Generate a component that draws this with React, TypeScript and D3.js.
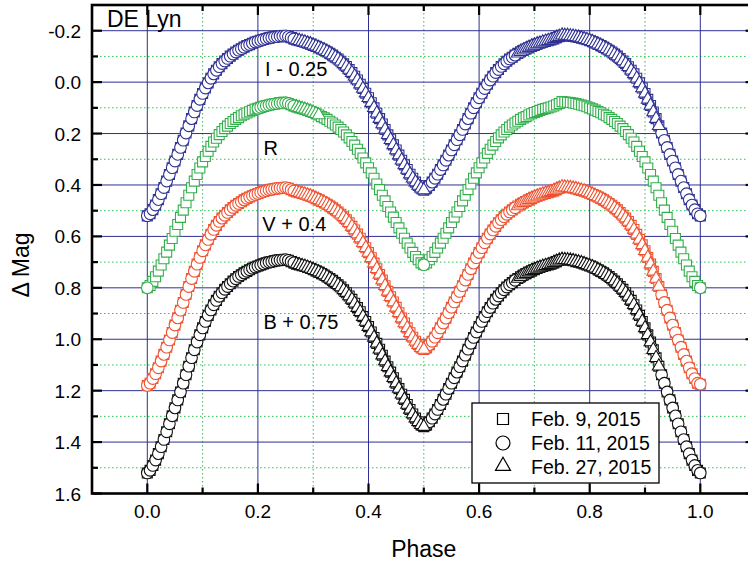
import React from 'react';
import * as d3 from 'd3';

// Orbital phase grid (x values of every observation point)
const PHASE = [
  0.000, 0.005, 0.010, 0.015, 0.020, 0.025, 0.030, 0.035, 0.040, 0.045,
  0.050, 0.055, 0.060, 0.065, 0.070, 0.075, 0.080, 0.085, 0.090, 0.095,
  0.100, 0.105, 0.110, 0.115, 0.120, 0.125, 0.130, 0.135, 0.140, 0.145,
  0.150, 0.155, 0.160, 0.165, 0.170, 0.175, 0.180, 0.185, 0.190, 0.195,
  0.200, 0.205, 0.210, 0.215, 0.220, 0.225, 0.230, 0.235, 0.240, 0.245,
  0.250, 0.255, 0.260, 0.265, 0.270, 0.275, 0.280, 0.285, 0.290, 0.295,
  0.300, 0.305, 0.310, 0.315, 0.320, 0.325, 0.330, 0.335, 0.340, 0.345,
  0.350, 0.355, 0.360, 0.365, 0.370, 0.375, 0.380, 0.385, 0.390, 0.395,
  0.400, 0.405, 0.410, 0.415, 0.420, 0.425, 0.430, 0.435, 0.440, 0.445,
  0.450, 0.455, 0.460, 0.465, 0.470, 0.475, 0.480, 0.485, 0.490, 0.495,
  0.500, 0.505, 0.510, 0.515, 0.520, 0.525, 0.530, 0.535, 0.540, 0.545,
  0.550, 0.555, 0.560, 0.565, 0.570, 0.575, 0.580, 0.585, 0.590, 0.595,
  0.600, 0.605, 0.610, 0.615, 0.620, 0.625, 0.630, 0.635, 0.640, 0.645,
  0.650, 0.655, 0.660, 0.665, 0.670, 0.675, 0.680, 0.685, 0.690, 0.695,
  0.700, 0.705, 0.710, 0.715, 0.720, 0.725, 0.730, 0.735, 0.740, 0.745,
  0.750, 0.755, 0.760, 0.765, 0.770, 0.775, 0.780, 0.785, 0.790, 0.795,
  0.800, 0.805, 0.810, 0.815, 0.820, 0.825, 0.830, 0.835, 0.840, 0.845,
  0.850, 0.855, 0.860, 0.865, 0.870, 0.875, 0.880, 0.885, 0.890, 0.895,
  0.900, 0.905, 0.910, 0.915, 0.920, 0.925, 0.930, 0.935, 0.940, 0.945,
  0.950, 0.955, 0.960, 0.965, 0.970, 0.975, 0.980, 0.985, 0.990, 0.995,
  1.000,
];

// I - 0.25
const MAG_I = [
  0.520, 0.512, 0.496, 0.478, 0.457, 0.434, 0.410, 0.385, 0.359, 0.333,
  0.307, 0.281, 0.254, 0.226, 0.198, 0.170, 0.142, 0.116, 0.091, 0.067,
  0.044, 0.023, 0.003, -0.015, -0.032, -0.046, -0.060, -0.072, -0.082, -0.092,
  -0.101, -0.109, -0.117, -0.124, -0.130, -0.136, -0.142, -0.146, -0.151, -0.156,
  -0.159, -0.163, -0.166, -0.169, -0.172, -0.174, -0.176, -0.177, -0.179, -0.179,
  -0.180,
  -0.177, -0.173, -0.168, -0.164, -0.161, -0.158, -0.155, -0.151, -0.148, -0.143,
  -0.139, -0.134, -0.129, -0.124, -0.118, -0.112, -0.105, -0.097, -0.090, -0.081,
  -0.071, -0.061, -0.049, -0.037, -0.023, -0.008, 0.008, 0.025, 0.043, 0.061,
  0.080, 0.100, 0.121, 0.142, 0.163, 0.184, 0.205, 0.224, 0.244, 0.264,
  0.284, 0.304, 0.322, 0.340, 0.358, 0.374, 0.389, 0.402, 0.413, 0.420,
  0.413, 0.402, 0.389, 0.374, 0.358, 0.340, 0.322, 0.304, 0.284, 0.264,
  0.244, 0.224, 0.205, 0.184, 0.163, 0.142, 0.121, 0.100, 0.080, 0.061,
  0.043, 0.025, 0.008, -0.008, -0.023, -0.037, -0.049, -0.061, -0.071, -0.081,
  -0.090, -0.097, -0.105, -0.112, -0.118, -0.124, -0.129, -0.134, -0.139, -0.143,
  -0.148, -0.151, -0.155, -0.158, -0.161, -0.164, -0.168, -0.173, -0.177,
  -0.182,
  -0.181, -0.181, -0.179, -0.178, -0.176, -0.174, -0.171, -0.168, -0.165, -0.161,
  -0.157, -0.152, -0.147, -0.142, -0.136, -0.130, -0.124, -0.117, -0.109, -0.101,
  -0.092, -0.082, -0.072, -0.060, -0.046, -0.032, -0.015, 0.003, 0.023, 0.044,
  0.067, 0.091, 0.116, 0.142, 0.170, 0.198, 0.226, 0.254, 0.281, 0.307,
  0.333, 0.359, 0.385, 0.410, 0.434, 0.457, 0.478, 0.496, 0.512, 0.520,
];

// R
const MAG_R = [
  0.800, 0.791, 0.775, 0.757, 0.735, 0.711, 0.687, 0.661, 0.634, 0.608,
  0.580, 0.554, 0.526, 0.498, 0.469, 0.440, 0.411, 0.385, 0.359, 0.334,
  0.310, 0.289, 0.269, 0.250, 0.233, 0.218, 0.204, 0.192, 0.181, 0.171,
  0.161, 0.153, 0.145, 0.138, 0.131, 0.125, 0.120, 0.115, 0.110, 0.105,
  0.102, 0.098, 0.094, 0.092, 0.089, 0.086, 0.084, 0.083, 0.081, 0.081,
  0.080,
  0.083, 0.088, 0.093, 0.097, 0.100, 0.103, 0.106, 0.110, 0.114, 0.118,
  0.123, 0.128, 0.134, 0.139, 0.145, 0.152, 0.159, 0.167, 0.175, 0.184,
  0.194, 0.205, 0.217, 0.231, 0.245, 0.261, 0.277, 0.295, 0.314, 0.333,
  0.353, 0.374, 0.396, 0.418, 0.440, 0.462, 0.484, 0.505, 0.525, 0.546,
  0.567, 0.588, 0.607, 0.626, 0.645, 0.662, 0.678, 0.691, 0.703, 0.710,
  0.703, 0.691, 0.678, 0.662, 0.645, 0.626, 0.607, 0.588, 0.567, 0.546,
  0.525, 0.505, 0.484, 0.462, 0.440, 0.418, 0.396, 0.374, 0.353, 0.333,
  0.314, 0.295, 0.277, 0.261, 0.245, 0.231, 0.217, 0.205, 0.194, 0.184,
  0.175, 0.167, 0.159, 0.152, 0.145, 0.139, 0.134, 0.128, 0.123, 0.118,
  0.114, 0.110, 0.106, 0.103, 0.100, 0.097, 0.093, 0.088, 0.083,
  0.076,
  0.077, 0.078, 0.079, 0.081, 0.083, 0.086, 0.089, 0.092, 0.096, 0.100,
  0.104, 0.109, 0.114, 0.119, 0.125, 0.131, 0.138, 0.145, 0.153, 0.161,
  0.171, 0.181, 0.192, 0.204, 0.218, 0.233, 0.250, 0.269, 0.289, 0.310,
  0.334, 0.359, 0.385, 0.411, 0.440, 0.469, 0.498, 0.526, 0.554, 0.580,
  0.608, 0.634, 0.661, 0.687, 0.711, 0.735, 0.757, 0.775, 0.791, 0.800,
];

// V + 0.4
const MAG_V = [
  1.180, 1.171, 1.153, 1.134, 1.111, 1.085, 1.059, 1.031, 1.003, 0.974,
  0.945, 0.917, 0.887, 0.857, 0.826, 0.795, 0.764, 0.736, 0.708, 0.682,
  0.656, 0.633, 0.612, 0.592, 0.573, 0.557, 0.542, 0.529, 0.518, 0.507,
  0.497, 0.488, 0.479, 0.472, 0.465, 0.458, 0.452, 0.447, 0.442, 0.437,
  0.433, 0.429, 0.425, 0.422, 0.419, 0.417, 0.415, 0.413, 0.412, 0.411,
  0.410,
  0.413, 0.418, 0.423, 0.427, 0.430, 0.433, 0.436, 0.440, 0.444, 0.448,
  0.453, 0.458, 0.464, 0.469, 0.475, 0.482, 0.489, 0.497, 0.505, 0.514,
  0.524, 0.535, 0.547, 0.561, 0.575, 0.591, 0.607, 0.625, 0.644, 0.663,
  0.683, 0.704, 0.726, 0.748, 0.770, 0.792, 0.814, 0.835, 0.855, 0.876,
  0.897, 0.918, 0.937, 0.956, 0.975, 0.992, 1.008, 1.021, 1.033, 1.040,
  1.033, 1.021, 1.008, 0.992, 0.975, 0.956, 0.937, 0.918, 0.897, 0.876,
  0.855, 0.835, 0.814, 0.792, 0.770, 0.748, 0.726, 0.704, 0.683, 0.663,
  0.644, 0.625, 0.607, 0.591, 0.575, 0.561, 0.547, 0.535, 0.524, 0.514,
  0.505, 0.497, 0.489, 0.482, 0.475, 0.469, 0.464, 0.458, 0.453, 0.448,
  0.444, 0.440, 0.436, 0.433, 0.430, 0.427, 0.423, 0.418, 0.413,
  0.408,
  0.409, 0.410, 0.411, 0.413, 0.415, 0.418, 0.421, 0.424, 0.428, 0.432,
  0.437, 0.442, 0.447, 0.452, 0.458, 0.465, 0.472, 0.479, 0.488, 0.497,
  0.507, 0.518, 0.529, 0.542, 0.557, 0.573, 0.592, 0.612, 0.633, 0.656,
  0.682, 0.708, 0.736, 0.764, 0.795, 0.826, 0.857, 0.887, 0.917, 0.945,
  0.974, 1.003, 1.031, 1.059, 1.085, 1.111, 1.134, 1.153, 1.171, 1.175,
];

// B + 0.75
const MAG_B = [
  1.520, 1.510, 1.491, 1.470, 1.445, 1.418, 1.390, 1.360, 1.329, 1.298,
  1.267, 1.236, 1.205, 1.171, 1.138, 1.105, 1.072, 1.041, 1.011, 0.983,
  0.956, 0.931, 0.907, 0.886, 0.866, 0.849, 0.833, 0.819, 0.806, 0.795,
  0.784, 0.774, 0.765, 0.756, 0.749, 0.742, 0.736, 0.730, 0.724, 0.719,
  0.715, 0.711, 0.707, 0.703, 0.700, 0.698, 0.695, 0.693, 0.692, 0.691,
  0.690,
  0.693, 0.698, 0.703, 0.708, 0.711, 0.714, 0.717, 0.721, 0.725, 0.730,
  0.734, 0.739, 0.745, 0.750, 0.757, 0.764, 0.771, 0.780, 0.788, 0.797,
  0.808, 0.819, 0.832, 0.845, 0.860, 0.877, 0.893, 0.912, 0.931, 0.951,
  0.972, 0.993, 1.016, 1.039, 1.062, 1.085, 1.107, 1.128, 1.150, 1.171,
  1.192, 1.214, 1.234, 1.254, 1.273, 1.291, 1.307, 1.321, 1.333, 1.340,
  1.333, 1.321, 1.307, 1.291, 1.273, 1.254, 1.234, 1.214, 1.192, 1.171,
  1.150, 1.128, 1.107, 1.085, 1.062, 1.039, 1.016, 0.993, 0.972, 0.951,
  0.931, 0.912, 0.893, 0.877, 0.860, 0.845, 0.832, 0.819, 0.808, 0.797,
  0.788, 0.780, 0.771, 0.764, 0.757, 0.750, 0.745, 0.739, 0.734, 0.730,
  0.725, 0.721, 0.717, 0.714, 0.711, 0.708, 0.703, 0.698, 0.693,
  0.690,
  0.691, 0.692, 0.693, 0.695, 0.698, 0.700, 0.703, 0.707, 0.711, 0.715,
  0.719, 0.724, 0.730, 0.736, 0.742, 0.749, 0.756, 0.765, 0.774, 0.784,
  0.795, 0.806, 0.819, 0.833, 0.849, 0.866, 0.886, 0.907, 0.931, 0.956,
  0.983, 1.011, 1.041, 1.072, 1.105, 1.138, 1.171, 1.205, 1.236, 1.267,
  1.298, 1.329, 1.360, 1.390, 1.418, 1.445, 1.470, 1.491, 1.510, 1.520,
];

// Nights (legend) and the phase spans each night covers
const NIGHTS = ['Feb. 9, 2015', 'Feb. 11, 2015', 'Feb. 27, 2015'];
const FEB9_SPANS = [[0, 1]];
const FEB11_SPANS = [[0, 0.265], [0.505, 0.665], [0.93, 1.0]];
const FEB27_SPANS = [[0.27, 0.5], [0.67, 0.925]];
const FEB11_SPANS_R = [[0, 0], [0.2, 0.265], [0.5, 0.5], [1, 1]];
const FEB27_SPANS_R = [[0.27, 0.31]];

const BAND_NAMES = ['B + 0.75', 'V + 0.4', 'R', 'I - 0.25'];
const BAND_LABEL_AT = [[0.21, 0.96], [0.208, 0.579], [0.21, 0.283], [0.213, -0.024]];

const X_TICKS = [0, 0.2, 0.4, 0.6, 0.8, 1.0];
const X_MINOR = [0.1, 0.3, 0.5, 0.7, 0.9];
const Y_TICKS = [-0.2, 0, 0.2, 0.4, 0.6, 0.8, 1.0, 1.2, 1.4, 1.6];
const Y_MINOR = [-0.1, 0.1, 0.3, 0.5, 0.7, 0.9, 1.1, 1.3, 1.5];

const W = 748;
const H = 566;
const FONT = '"Liberation Sans", Arial, Helvetica, sans-serif';

const x = d3.scaleLinear().domain([-0.1, 1.1]).range([92, 755.6]);
const y = d3.scaleLinear().domain([-0.3, 1.6]).range([5, 493.5]);

const inSpans = (p: number, spans: number[][]) =>
  spans.some(([a, b]) => p >= a - 1e-9 && p <= b + 1e-9);

const symSquare = d3.symbol().type(d3.symbolSquare).size(100)();
const symCircle = d3.symbol().type(d3.symbolCircle).size(Math.PI * 5.8 * 5.8)();
const symTriangle = d3.symbol().type(d3.symbolTriangle).size(72)();
const legSquare = d3.symbol().type(d3.symbolSquare).size(121)();
const legCircle = d3.symbol().type(d3.symbolCircle).size(Math.PI * 7 * 7)();
const legTriangle = d3.symbol().type(d3.symbolTriangle).size(98)();

const BANDS = [
  { mags: MAG_B, color: '#111111', c: FEB11_SPANS, t: FEB27_SPANS },
  { mags: MAG_V, color: '#EF5230', c: FEB11_SPANS, t: FEB27_SPANS },
  { mags: MAG_R, color: '#33AE4C', c: FEB11_SPANS_R, t: FEB27_SPANS_R },
  { mags: MAG_I, color: '#2E3192', c: FEB11_SPANS, t: FEB27_SPANS },
];

const fmt = (v: number) => v.toFixed(1);

export default function App() {
  const [x0, x1] = x.range();
  const [y0, y1] = y.range();
  const markers: React.ReactNode[] = [];
  BANDS.forEach((b, bi) => {
    const layers = [
      { spans: FEB9_SPANS, d: symSquare },
      { spans: b.c, d: symCircle },
      { spans: b.t, d: symTriangle },
    ];
    layers.forEach((L, li) => {
      PHASE.forEach((p, i) => {
        if (!inSpans(p, L.spans)) return;
        markers.push(
          <path
            key={`${bi}-${li}-${i}`}
            d={L.d as string}
            transform={`translate(${x(p)},${y(b.mags[i])})`}
            fill="#fff"
            stroke={b.color}
            strokeWidth={1.1}
          />
        );
      });
    });
  });

  return (
    <svg
      width={W}
      height={H}
      style={{ position: 'absolute', left: 0, top: 0, background: '#fff' }}
      fontFamily={FONT}
    >
      <rect x={0} y={0} width={W} height={H} fill="#fff" />
      {/* minor grid */}
      {X_MINOR.map((v) => (
        <line key={`xm${v}`} x1={x(v)} x2={x(v)} y1={y0} y2={y1} stroke="#2fc24f" strokeWidth={1} strokeDasharray="1.5 2.5" />
      ))}
      {Y_MINOR.map((v) => (
        <line key={`ym${v}`} x1={x0} x2={x1} y1={y(v)} y2={y(v)} stroke="#2fc24f" strokeWidth={1} strokeDasharray="1.5 2.5" />
      ))}
      {/* major grid */}
      {X_TICKS.map((v) => (
        <line key={`xg${v}`} x1={x(v)} x2={x(v)} y1={y0} y2={y1} stroke="#2E3192" strokeWidth={1} />
      ))}
      {Y_TICKS.map((v) => (
        <line key={`yg${v}`} x1={x0} x2={x1} y1={y(v)} y2={y(v)} stroke="#2E3192" strokeWidth={1} />
      ))}

      {markers}

      {/* band labels */}
      {BAND_NAMES.map((n, i) => (
        <text key={n} x={x(BAND_LABEL_AT[i][0])} y={y(BAND_LABEL_AT[i][1])} fontSize={20} fill="#000">
          {n}
        </text>
      ))}
      <text x={107} y={27} fontSize={23} fill="#000">DE Lyn</text>

      {/* frame */}
      <rect x={x0} y={y0} width={x1 - x0} height={y1 - y0} fill="none" stroke="#000" strokeWidth={2.6} />
      {/* ticks */}
      {X_TICKS.map((v) => (
        <g key={`xt${v}`}>
          <line x1={x(v)} x2={x(v)} y1={y1} y2={y1 - 10} stroke="#000" strokeWidth={2.2} />
          <line x1={x(v)} x2={x(v)} y1={y0} y2={y0 + 10} stroke="#000" strokeWidth={2.2} />
        </g>
      ))}
      {X_MINOR.map((v) => (
        <g key={`xmt${v}`}>
          <line x1={x(v)} x2={x(v)} y1={y1} y2={y1 - 6} stroke="#000" strokeWidth={2.2} />
          <line x1={x(v)} x2={x(v)} y1={y0} y2={y0 + 6} stroke="#000" strokeWidth={2.2} />
        </g>
      ))}
      {Y_TICKS.map((v) => (
        <g key={`yt${v}`}>
          <line x1={x0} x2={x0 + 10} y1={y(v)} y2={y(v)} stroke="#000" strokeWidth={2.2} />
          <line x1={x1} x2={x1 - 10} y1={y(v)} y2={y(v)} stroke="#000" strokeWidth={2.2} />
        </g>
      ))}
      {Y_MINOR.map((v) => (
        <g key={`ymt${v}`}>
          <line x1={x0} x2={x0 + 6} y1={y(v)} y2={y(v)} stroke="#000" strokeWidth={2.2} />
          <line x1={x1} x2={x1 - 6} y1={y(v)} y2={y(v)} stroke="#000" strokeWidth={2.2} />
        </g>
      ))}

      {/* tick labels */}
      {X_TICKS.map((v) => (
        <text key={`xl${v}`} x={x(v)} y={518} fontSize={19} textAnchor="middle" fill="#000">
          {fmt(v)}
        </text>
      ))}
      {Y_TICKS.map((v) => (
        <text key={`yl${v}`} x={81} y={y(v) + 7} fontSize={19} textAnchor="end" fill="#000">
          {fmt(v)}
        </text>
      ))}

      {/* axis titles */}
      <text x={(x0 + x1) / 2} y={557} fontSize={23} textAnchor="middle" fill="#000">Phase</text>
      <text transform="translate(29,265) rotate(-90)" fontSize={23} textAnchor="middle" fill="#000">Δ Mag</text>

      {/* legend */}
      <rect x={472} y={403} width={187} height={80} fill="#fff" stroke="#000" strokeWidth={1.3} />
      {[legSquare, legCircle, legTriangle].map((d, i) => (
        <g key={`lg${i}`}>
          <path d={d as string} transform={`translate(503,${[419, 443, 466][i]})`} fill="#fff" stroke="#000" strokeWidth={1.2} />
          <text x={531} y={[426, 450, 474][i]} fontSize={19.5} fill="#000">{NIGHTS[i]}</text>
        </g>
      ))}
    </svg>
  );
}
